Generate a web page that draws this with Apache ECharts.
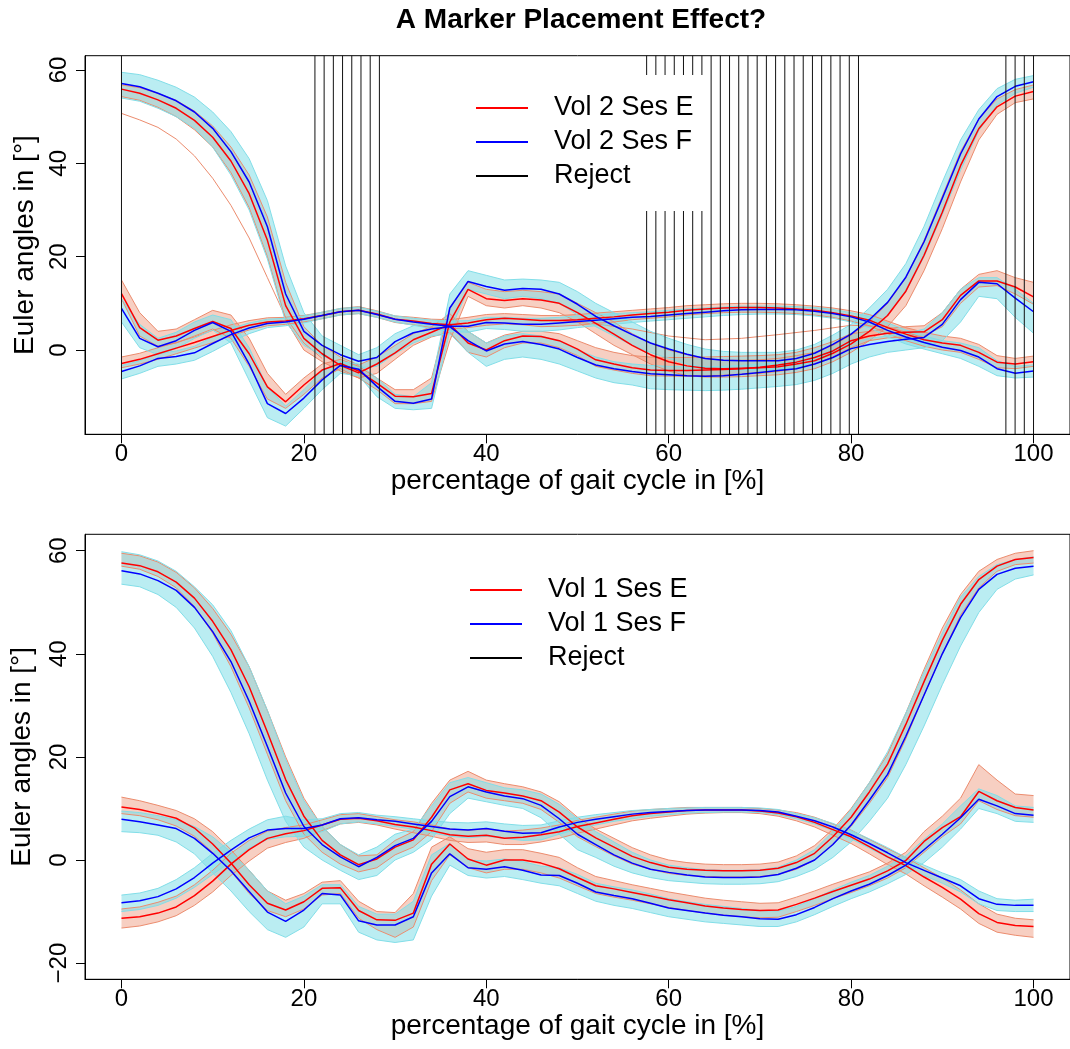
<!DOCTYPE html>
<html>
<head>
<meta charset="utf-8">
<title>A Marker Placement Effect?</title>
<script src="https://cdn.jsdelivr.net/npm/echarts@6/dist/echarts.min.js"></script>
<style>
  html, body { margin: 0; padding: 0; background: #fff; }
  #main { width: 1070px; height: 1049px; }
</style>
</head>
<body>
<div id="main"></div>
<script>
// percentage of gait cycle, sampling grid used for every curve
const xs = [0,2,4,6,8,10,12,14,16,18,20,22,24,26,28,30,32,34,36,38,40,42,44,46,48,50,
  52,54,56,58,60,62,64,66,68,70,72,74,76,78,80,82,84,86,88,90,92,94,96,98,100];

const xTicks = [0, 20, 40, 60, 80, 100];
const yTicksTop = [0, 20, 40, 60];
const yTicksBottom = [-20, 0, 20, 40, 60];

// rejected samples (vertical black lines, top panel)
const rejectX = [0, 21.21, 22.22, 23.23, 24.24, 25.25, 26.26, 27.27, 28.28,
  57.58, 58.59, 59.6, 60.61, 61.62, 62.63, 63.64, 64.65, 65.66, 66.67, 67.68, 68.69,
  69.7, 70.71, 71.72, 72.73, 73.74, 74.75, 75.76, 76.77, 77.78, 78.79, 79.8, 80.81,
  96.97, 97.98, 98.99, 100];

// ---- Vol 2 (top panel): means and trial envelopes ----
const vol2E1 = [55.9,55.0,53.6,51.8,49.2,45.6,40.5,33.5,23.5,9.5,2.5,-0.8,-3.3,-4.9,-3.0,-0.6,2.2,3.8,5.5,1.5,0.0,2.0,3.0,2.9,2.0,0.2,-2.1,-3.0,-3.8,-4.3,-4.4,-4.4,-4.3,-4.2,-4.0,-3.7,-3.2,-2.6,-1.6,-0.2,2.0,3.0,3.6,3.8,3.9,6.5,11.7,14.8,14.8,13.5,11.4];
const vol2E1Lo = [54.3,53.5,52.0,50.0,47.2,43.5,38.0,30.5,20.0,6.5,0.0,-2.5,-4.5,-6.0,-5.0,-2.0,1.0,2.8,3.8,-0.5,-1.5,0.5,1.5,1.5,0.5,-1.2,-3.5,-4.3,-5.0,-5.5,-5.6,-5.6,-5.5,-5.4,-5.2,-5.0,-4.6,-4.0,-3.0,-1.5,0.5,2.0,2.6,2.8,3.0,5.0,10.0,13.5,13.8,12.0,9.8];
const vol2E1Hi = [56.8,56.2,55.0,53.5,51.2,48.0,43.5,37.5,28.5,14.5,5.0,1.0,-1.5,-3.2,-1.5,1.0,3.5,5.0,7.8,4.0,1.5,3.2,4.0,4.0,3.5,2.0,0.5,-0.5,-1.2,-1.5,-1.6,-1.6,-1.5,-1.4,-1.3,-1.2,-1.0,-0.5,0.5,1.8,3.5,4.0,4.6,5.0,5.2,8.0,13.0,16.2,17.0,15.5,14.5];
const vol2F1 = [57.1,56.4,55.0,53.4,51.0,47.5,42.5,36.0,26.4,12.0,4.0,1.0,-1.0,-2.4,-1.6,1.8,3.7,4.5,5.0,2.0,-0.2,1.3,1.8,1.2,0.2,-1.6,-3.2,-4.0,-4.6,-5.1,-5.3,-5.5,-5.6,-5.5,-5.2,-4.8,-4.4,-4.0,-3.0,-1.6,0.3,1.2,1.8,2.3,2.7,5.5,10.8,14.5,14.2,11.1,8.2];
const vol2F1Lo = [54.0,53.3,51.8,50.0,47.5,43.5,37.5,30.0,19.5,6.0,1.0,-1.2,-3.0,-3.8,-3.5,-0.8,1.5,3.0,3.5,-0.5,-3.5,-2.0,-1.5,-2.0,-3.0,-4.5,-6.0,-7.0,-7.5,-8.3,-8.5,-8.6,-8.7,-8.6,-8.4,-8.1,-7.8,-7.4,-6.5,-5.0,-3.0,-1.5,-0.5,0.0,0.5,2.0,6.0,11.5,11.0,7.0,3.6];
const vol2F1Hi = [59.5,59.0,57.8,56.3,54.2,51.0,46.8,41.0,32.0,18.0,8.0,3.0,1.0,-1.0,0.5,3.5,5.2,5.8,6.5,4.0,1.5,3.0,3.5,3.0,2.0,0.0,-1.5,-2.5,-3.0,-3.3,-3.5,-3.6,-3.6,-3.5,-3.3,-3.0,-2.8,-2.5,-1.5,0.0,1.5,2.5,3.0,3.5,4.5,8.0,13.0,15.5,15.5,13.0,10.0];

const vol2E2 = [12.1,4.8,2.1,3.0,4.6,6.1,4.6,-0.8,-7.9,-11.1,-7.5,-4.3,-2.9,-4.5,-7.1,-9.9,-10.0,-9.3,6.0,13.0,11.0,10.6,11.0,10.7,10.0,8.0,5.7,3.4,1.0,-1.0,-2.5,-3.4,-3.9,-4.0,-3.9,-3.8,-3.6,-3.0,-2.3,-0.7,1.3,4.0,7.4,12.6,20.3,29.5,39.5,47.4,52.1,54.4,55.4];
const vol2E2Lo = [11.0,3.0,0.8,1.5,3.0,4.5,2.5,-3.5,-10.5,-12.5,-9.5,-6.0,-4.0,-6.0,-8.5,-11.5,-11.5,-11.0,2.0,11.5,9.5,9.0,9.5,9.0,8.0,6.0,3.5,1.0,-1.0,-3.0,-4.5,-5.5,-5.8,-5.8,-5.7,-5.5,-5.3,-4.8,-4.0,-2.5,-0.5,2.0,5.0,9.5,17.0,26.0,36.0,45.0,50.5,53.0,53.8];
const vol2E2Hi = [15.0,8.0,4.0,4.5,6.5,8.5,7.5,2.5,-5.0,-9.5,-6.0,-3.0,-2.0,-3.5,-6.0,-8.5,-8.5,-6.0,9.0,14.5,13.0,12.5,12.8,12.5,12.0,10.0,8.0,6.0,3.5,1.5,0.0,-1.0,-1.8,-2.2,-2.2,-2.1,-1.8,-1.2,-0.5,1.0,3.2,6.0,10.0,15.5,23.5,33.0,42.5,49.5,53.8,55.8,56.8];
const vol2F2 = [8.9,2.5,0.7,2.0,4.2,5.9,4.0,-3.0,-11.5,-13.6,-10.3,-6.4,-3.3,-4.1,-7.8,-11.0,-11.4,-10.5,9.0,14.7,13.6,12.8,13.2,13.0,12.0,9.8,7.2,5.2,3.3,1.5,0.2,-0.9,-1.8,-2.2,-2.3,-2.3,-2.3,-1.8,-0.7,1.2,3.4,6.5,10.2,15.6,23.2,32.5,42.0,49.5,54.3,56.5,57.5];
const vol2F2Lo = [6.0,0.5,-1.0,0.3,2.5,4.3,1.5,-6.5,-14.5,-16.3,-12.5,-8.5,-5.0,-5.5,-10.0,-12.5,-12.8,-12.5,4.0,13.0,12.0,11.0,11.5,11.0,10.0,7.5,5.0,3.0,1.0,-0.5,-1.8,-3.0,-3.8,-4.2,-4.3,-4.3,-4.2,-3.8,-2.5,-0.5,1.5,4.0,7.5,12.5,20.0,29.0,38.5,47.0,52.5,55.0,56.3];
const vol2F2Hi = [11.0,5.5,2.5,3.8,6.0,7.5,6.5,0.5,-8.0,-12.0,-8.5,-4.5,-2.5,-3.0,-6.0,-9.5,-10.0,-7.0,12.0,17.0,16.0,15.0,15.2,15.0,14.5,12.5,10.0,8.0,6.0,4.0,2.5,1.2,0.2,-0.3,-0.5,-0.5,-0.5,0.0,1.2,3.2,5.5,9.0,13.0,18.5,26.5,36.0,45.0,51.5,56.0,58.0,58.8];

const vol2E3 = [-2.9,-2.0,-0.8,0.4,1.6,2.9,4.2,5.3,6.0,6.2,6.7,7.4,8.2,8.5,7.7,6.6,6.2,5.7,5.4,5.8,6.5,6.8,6.6,6.3,6.3,6.5,6.8,7.1,7.5,7.8,8.1,8.5,8.8,9.0,9.1,9.1,9.0,8.8,8.5,8.0,7.3,6.4,4.8,3.4,2.2,1.5,1.0,-0.5,-2.6,-3.0,-2.5];
const vol2E3Lo = [-3.8,-3.0,-2.0,-0.8,0.4,1.6,3.0,4.3,5.2,5.5,6.0,6.7,7.5,7.8,7.0,5.9,5.4,4.8,4.5,4.8,5.3,5.6,5.4,5.0,5.1,5.3,5.7,6.0,6.5,6.8,7.1,7.5,7.8,8.0,8.1,8.1,8.0,7.8,7.5,7.0,6.2,5.2,3.5,2.0,0.8,0.0,-0.5,-2.0,-3.8,-4.0,-3.5];
const vol2E3Hi = [-1.5,-0.7,0.5,1.6,2.8,4.2,5.4,6.3,6.9,7.0,7.4,8.1,8.9,9.3,8.4,7.3,7.0,6.6,6.5,7.0,7.6,7.8,7.6,7.4,7.4,7.6,7.9,8.2,8.5,8.8,9.1,9.5,9.7,9.9,10.0,10.0,9.9,9.7,9.4,9.0,8.4,7.6,6.2,4.8,3.8,3.0,2.5,1.2,-1.2,-1.8,-1.3];
const vol2F3 = [-4.6,-3.4,-1.8,-1.4,-0.6,1.4,3.3,4.7,5.7,6.0,6.6,7.4,8.2,8.5,7.6,6.6,6.0,5.5,5.1,5.1,5.9,5.8,5.5,5.5,5.8,6.1,6.4,6.7,7.0,7.2,7.5,7.8,8.1,8.4,8.6,8.7,8.7,8.6,8.3,7.8,7.1,6.0,4.2,2.8,1.6,0.6,-0.1,-1.5,-4.0,-5.0,-4.5];
const vol2F3Lo = [-6.2,-5.0,-3.5,-3.0,-2.2,-0.3,1.8,3.5,4.8,5.2,5.8,6.7,7.5,7.8,7.0,6.0,5.3,4.6,4.0,3.8,4.6,4.4,4.0,4.0,4.3,4.8,5.2,5.5,5.9,6.2,6.5,6.8,7.1,7.4,7.6,7.7,7.7,7.6,7.3,6.8,6.0,4.8,2.8,1.3,0.2,-0.8,-1.8,-3.5,-5.5,-6.0,-5.8];
const vol2F3Hi = [-3.3,-2.3,-0.8,-0.2,0.8,2.8,4.6,5.8,6.6,6.8,7.3,8.1,8.9,9.2,8.3,7.3,6.8,6.4,6.2,6.3,7.0,7.0,6.8,6.8,7.0,7.3,7.5,7.8,8.0,8.2,8.5,8.8,9.0,9.2,9.4,9.4,9.4,9.3,9.1,8.7,8.0,7.2,5.8,4.3,3.0,2.0,1.5,0.5,-2.3,-3.5,-3.2];

// two single stray trials of session E
const vol2OddX1 = [0,2,4,6,8,10,12,14,16,18,20,22];
const vol2OddE1 = [50.7,49.3,47.7,45.2,41.6,36.8,31.0,24.0,15.5,7.0,1.5,-1.8];
const vol2OddX3 = [48,52,56,60,64,68,72,76,80,84,88];
const vol2OddE3 = [6.3,5.6,4.5,3.0,2.2,2.5,3.3,4.2,5.3,5.0,2.6];

// ---- Vol 1 (bottom panel) ----
const vol1E1 = [57.6,57.1,55.9,53.9,50.8,46.3,40.8,33.6,24.8,15.6,8.5,3.8,1.0,-0.9,0.2,2.5,3.9,8.3,13.6,14.8,13.5,13.0,12.4,11.5,9.3,6.4,4.3,2.5,0.7,-0.5,-1.4,-1.8,-2.0,-2.1,-2.1,-2.0,-1.6,-0.5,1.3,4.5,8.3,13.2,18.6,26.3,34.6,42.6,49.6,54.4,57.0,58.3,58.7];
const vol1E1Lo = [57.0,56.4,55.0,52.8,49.2,44.0,37.5,29.5,20.5,11.5,5.0,1.5,-0.8,-2.3,-1.5,1.0,2.5,5.5,11.0,13.2,12.0,11.5,11.0,9.8,7.3,4.5,2.6,0.8,-0.8,-1.8,-2.6,-3.0,-3.2,-3.3,-3.3,-3.2,-2.8,-1.8,0.0,3.0,6.5,11.0,16.0,23.5,32.0,40.0,47.5,52.8,56.0,57.3,57.6];
const vol1E1Hi = [59.5,59.0,57.8,55.8,52.8,48.8,43.8,37.5,29.0,20.0,12.0,6.5,3.0,0.8,1.0,3.8,5.5,11.0,15.5,17.2,15.5,14.8,14.2,13.2,11.3,8.3,6.0,4.2,2.4,1.0,0.0,-0.5,-0.8,-0.9,-0.9,-0.8,-0.4,0.8,2.8,6.0,10.0,15.0,20.5,28.5,37.0,45.0,51.5,56.0,58.3,59.5,60.0];
const vol1F1 = [56.1,55.5,54.2,52.3,49.0,44.3,38.5,30.8,22.0,13.0,6.5,3.0,0.6,-1.3,0.5,2.8,4.2,7.5,12.3,14.2,13.2,12.4,11.9,10.6,8.0,5.0,3.0,1.0,-0.6,-1.8,-2.4,-2.9,-3.3,-3.4,-3.4,-3.3,-2.8,-1.6,0.0,3.0,6.8,11.6,16.6,24.0,32.0,40.0,47.0,52.5,55.4,56.6,57.0];
const vol1F1Lo = [53.5,53.0,51.5,49.0,45.0,39.5,32.5,24.5,15.5,7.5,2.5,0.0,-2.0,-3.8,-3.0,0.0,1.5,4.0,9.0,12.0,11.3,10.6,10.0,8.2,5.0,2.0,0.5,-1.2,-2.5,-3.4,-4.0,-4.3,-4.6,-4.7,-4.7,-4.6,-4.2,-3.2,-1.8,0.5,3.5,7.5,12.0,18.5,26.0,34.0,41.5,48.0,52.5,54.5,55.3];
const vol1F1Hi = [59.8,59.2,58.0,56.0,53.0,49.5,44.5,37.5,29.0,19.5,11.5,6.5,3.0,1.0,2.5,5.0,6.0,10.5,15.0,16.0,15.0,14.0,13.6,12.8,10.8,8.0,5.5,3.5,1.5,0.0,-1.0,-1.5,-1.9,-2.0,-2.0,-1.9,-1.4,0.0,2.0,5.5,9.8,15.0,21.0,28.5,36.5,44.0,51.0,55.0,57.3,58.3,58.8];

const vol1E2 = [10.3,9.8,9.0,8.1,6.2,3.1,-0.6,-4.8,-8.4,-9.7,-8.1,-5.5,-5.4,-9.8,-11.6,-11.7,-10.3,-0.8,3.1,0.2,-1.0,0.0,0.0,-0.6,-1.7,-3.4,-5.0,-5.6,-6.3,-7.0,-7.7,-8.3,-8.9,-9.3,-9.6,-9.8,-9.7,-8.6,-7.4,-6.1,-4.9,-3.7,-2.1,-0.1,3.6,6.3,8.4,13.3,11.5,10.2,9.7];
const vol1E2Lo = [9.0,8.6,7.8,6.6,4.6,1.5,-2.2,-6.5,-9.8,-11.0,-9.5,-6.8,-6.5,-11.3,-13.5,-15.0,-13.0,-4.0,1.0,-1.5,-2.5,-1.8,-1.8,-2.5,-3.5,-5.0,-6.5,-7.2,-7.8,-8.5,-9.2,-9.8,-10.3,-10.7,-11.0,-11.2,-11.1,-10.0,-8.8,-7.5,-6.3,-5.0,-3.5,-1.5,1.5,4.5,7.0,11.5,9.8,8.6,8.3];
const vol1E2Hi = [12.2,11.5,10.6,9.6,8.0,5.5,2.0,-2.0,-6.0,-7.8,-6.5,-4.3,-4.0,-8.0,-10.0,-10.2,-6.5,2.5,4.5,2.2,1.5,2.0,2.0,1.3,0.5,-1.5,-3.2,-4.0,-4.8,-5.5,-6.2,-6.8,-7.4,-7.8,-8.1,-8.4,-8.3,-7.2,-6.0,-4.7,-3.5,-2.3,-0.6,1.5,5.5,8.5,12.0,18.5,15.5,12.8,12.5];
const vol1F2 = [7.9,7.4,6.8,6.1,4.2,1.3,-2.1,-6.1,-10.1,-11.9,-9.7,-6.5,-6.8,-11.8,-12.6,-12.6,-11.0,-2.5,1.2,-1.5,-1.8,-1.3,-2.0,-2.9,-3.0,-4.5,-6.2,-6.9,-7.5,-8.4,-9.3,-9.8,-10.3,-10.7,-11.0,-11.4,-11.5,-10.6,-9.2,-7.5,-6.0,-4.7,-3.0,-1.0,2.0,5.0,8.2,11.8,10.5,9.0,8.7];
const vol1F2Lo = [5.5,5.3,4.8,3.5,1.2,-2.5,-6.0,-10.0,-13.5,-15.0,-13.0,-8.5,-8.5,-14.0,-15.5,-16.0,-15.5,-7.0,-1.0,-3.0,-3.5,-3.2,-3.8,-4.5,-5.0,-6.5,-8.0,-8.8,-9.4,-10.2,-11.0,-11.5,-12.0,-12.3,-12.6,-12.9,-12.9,-12.0,-10.6,-9.0,-7.5,-6.2,-4.6,-2.8,-0.5,2.5,6.0,10.0,9.0,7.5,7.3];
const vol1F2Hi = [9.5,9.2,8.6,7.8,6.5,4.5,1.5,-2.0,-6.0,-8.5,-7.0,-4.8,-4.8,-9.0,-10.5,-10.5,-8.0,1.0,3.2,0.0,-0.2,0.2,-0.3,-1.2,-1.5,-2.8,-4.5,-5.2,-5.8,-6.6,-7.5,-8.1,-8.6,-9.0,-9.4,-9.8,-9.9,-9.0,-7.5,-5.8,-4.3,-3.0,-1.2,0.8,4.0,7.0,10.5,13.8,12.5,10.5,10.2];

const vol1E3 = [-11.3,-11.0,-10.3,-9.1,-6.9,-4.1,-0.8,2.0,4.2,5.1,5.7,6.8,7.9,8.1,7.6,6.9,6.4,5.7,4.9,4.6,4.8,4.2,4.4,4.9,5.5,6.5,7.2,7.9,8.6,9.0,9.3,9.6,9.7,9.7,9.7,9.5,9.1,8.4,7.3,5.9,4.5,2.6,0.6,-1.1,-3.3,-5.3,-7.6,-10.4,-12.1,-12.7,-12.9];
const vol1E3Lo = [-13.2,-12.8,-12.0,-10.8,-8.8,-6.2,-3.0,-0.2,2.3,3.4,4.2,5.7,7.0,7.3,6.8,6.0,5.3,4.6,3.8,3.4,3.5,3.0,3.0,3.5,4.2,5.2,6.0,6.8,7.6,8.1,8.5,8.9,9.1,9.2,9.2,9.0,8.5,7.6,6.4,4.8,3.2,1.2,-0.9,-2.7,-5.0,-7.2,-9.5,-12.3,-14.0,-14.6,-15.0];
const vol1E3Hi = [-9.5,-9.1,-8.2,-7.0,-4.8,-2.0,1.3,3.8,5.6,6.3,6.8,7.8,8.8,9.0,8.4,7.8,7.4,6.8,6.0,5.8,6.0,5.6,5.8,6.2,6.8,7.7,8.3,8.9,9.5,9.8,10.0,10.2,10.2,10.2,10.2,10.0,9.7,9.2,8.3,7.0,5.8,4.0,2.2,0.5,-1.5,-3.5,-5.8,-8.5,-10.5,-11.3,-11.6];
const vol1F3 = [-8.3,-7.9,-7.1,-5.6,-3.4,-0.6,1.9,4.3,5.8,6.1,6.1,6.8,8.0,8.2,7.8,7.5,7.0,6.5,6.0,5.8,6.1,5.6,5.2,5.3,6.4,7.3,7.9,8.4,8.9,9.2,9.4,9.6,9.7,9.7,9.7,9.6,9.3,8.5,7.6,6.4,4.9,3.2,1.4,-0.5,-2.0,-3.5,-5.0,-7.5,-8.6,-8.8,-8.8];
const vol1F3Lo = [-10.0,-9.6,-8.8,-7.4,-5.3,-2.8,-0.3,2.3,4.0,4.5,4.6,5.5,7.0,7.4,7.0,6.5,6.0,5.3,4.6,4.3,4.6,4.2,3.8,3.9,5.0,6.0,6.8,7.5,8.0,8.5,8.8,9.1,9.2,9.3,9.3,9.2,8.8,8.0,7.0,5.7,4.1,2.3,0.5,-1.4,-3.0,-4.5,-6.2,-8.5,-9.8,-10.0,-10.0];
const vol1F3Hi = [-6.8,-6.4,-5.5,-3.8,-1.5,1.3,3.8,6.0,7.8,8.5,7.8,8.0,9.0,9.2,8.7,8.4,8.0,7.6,7.3,7.2,7.4,7.0,6.7,6.8,7.6,8.3,8.8,9.2,9.6,9.8,10.0,10.1,10.2,10.2,10.2,10.1,9.8,9.0,8.2,7.1,5.7,4.1,2.4,0.5,-1.0,-2.5,-3.8,-6.0,-7.5,-7.8,-7.6];

const FONT = '"Liberation Sans", Arial, Helvetica, sans-serif';
const RED = '#ff0000', BLUE = '#0000ff';
const CYAN = '#82dee8', SALMON = '#ec8c6e';
const CYAN_FILL = 'rgba(130, 222, 232, 0.55)';
const SALMON_FILL = 'rgba(236, 140, 110, 0.42)';

const chart = echarts.init(document.getElementById('main'));

function toPairs(xv, vals) {
  return xv.map((x, i) => [x, vals[i]]);
}

// shaded envelope of the single trials, one polygon per bundle
function bandSeries(gi, lo, hi, fill) {
  return {
    type: 'custom', xAxisIndex: gi, yAxisIndex: gi, silent: true, z: 1, clip: true,
    data: toPairs(xs, lo),
    encode: { x: 0, y: 1 },
    renderItem(params, api) {
      if (params.dataIndex !== 0) return null;
      const pts = [];
      xs.forEach((x, i) => pts.push(api.coord([x, hi[i]])));
      for (let i = xs.length - 1; i >= 0; i--) pts.push(api.coord([xs[i], lo[i]]));
      return { type: 'polygon', shape: { points: pts }, style: { fill: fill } };
    }
  };
}

function lineSeries(gi, xv, vals, color, width, name, z) {
  return {
    type: 'line', name: name, xAxisIndex: gi, yAxisIndex: gi,
    data: toPairs(xv, vals), symbol: 'none', silent: true, z: z || 2,
    color: color, lineStyle: { color: color, width: width },
    emphasis: { disabled: true }
  };
}

const panels = [
  {
    gi: 0, nameE: 'Vol 2 Ses E', nameF: 'Vol 2 Ses F',
    E: [[vol2E1, vol2E1Lo, vol2E1Hi], [vol2E2, vol2E2Lo, vol2E2Hi], [vol2E3, vol2E3Lo, vol2E3Hi]],
    F: [[vol2F1, vol2F1Lo, vol2F1Hi], [vol2F2, vol2F2Lo, vol2F2Hi], [vol2F3, vol2F3Lo, vol2F3Hi]],
    odd: [[vol2OddX1, vol2OddE1], [vol2OddX3, vol2OddE3]]
  },
  {
    gi: 1, nameE: 'Vol 1 Ses E', nameF: 'Vol 1 Ses F',
    E: [[vol1E1, vol1E1Lo, vol1E1Hi], [vol1E2, vol1E2Lo, vol1E2Hi], [vol1E3, vol1E3Lo, vol1E3Hi]],
    F: [[vol1F1, vol1F1Lo, vol1F1Hi], [vol1F2, vol1F2Lo, vol1F2Hi], [vol1F3, vol1F3Lo, vol1F3Hi]],
    odd: []
  }
];

const series = [];
panels.forEach(p => {
  p.E.forEach(c => series.push(bandSeries(p.gi, c[1], c[2], SALMON_FILL)));
  p.F.forEach(c => series.push(bandSeries(p.gi, c[1], c[2], CYAN_FILL)));
  p.E.forEach(c => {
    series.push(lineSeries(p.gi, xs, c[1], SALMON, 1));
    series.push(lineSeries(p.gi, xs, c[2], SALMON, 1));
  });
  p.odd.forEach(o => series.push(lineSeries(p.gi, o[0], o[1], SALMON, 1)));
  p.F.forEach(c => {
    series.push(lineSeries(p.gi, xs, c[1], CYAN, 1));
    series.push(lineSeries(p.gi, xs, c[2], CYAN, 1));
  });
  p.E.forEach(c => series.push(lineSeries(p.gi, xs, c[0], RED, 1.5, p.nameE, 3)));
  p.F.forEach(c => series.push(lineSeries(p.gi, xs, c[0], BLUE, 1.5, p.nameF, 3)));
});

series.push({
  type: 'custom', name: 'Reject', xAxisIndex: 0, yAxisIndex: 0, z: 4, silent: true,
  color: '#000',
  data: rejectX.map(x => [x, 0]),
  encode: { x: 0, y: 1 },
  renderItem(params, api) {
    const cs = params.coordSys;
    const px = api.coord([api.value(0), 0])[0];
    return {
      type: 'line',
      shape: { x1: px, y1: cs.y, x2: px, y2: cs.y + cs.height },
      style: { stroke: '#111', lineWidth: 1 }
    };
  }
});

function xAxisCfg(gi) {
  return {
    type: 'value', gridIndex: gi, min: -4, max: 104,
    name: 'percentage of gait cycle in [%]', nameLocation: 'middle', nameGap: 33,
    nameTextStyle: { fontSize: 28, color: '#000', fontFamily: FONT },
    axisLine: { show: true, onZero: false, lineStyle: { color: '#000', width: 1 } },
    axisTick: { show: true, customValues: xTicks, length: 9, lineStyle: { color: '#000' } },
    axisLabel: { customValues: xTicks, fontSize: 24, color: '#000', margin: 8, fontFamily: FONT },
    splitLine: { show: false }
  };
}

function yAxisCfg(gi, min, max, ticks, gap) {
  return {
    type: 'value', gridIndex: gi, min: min, max: max,
    name: 'Euler angles in [°]', nameLocation: 'middle', nameRotate: 90, nameGap: gap,
    nameTextStyle: { fontSize: 28, color: '#000', fontFamily: FONT },
    axisLine: { show: true, onZero: false, lineStyle: { color: '#000', width: 1 } },
    axisTick: { show: true, customValues: ticks, length: 9, lineStyle: { color: '#000' } },
    axisLabel: {
      customValues: ticks, rotate: 90, fontSize: 24, color: '#000', margin: 13.5, fontFamily: FONT,
      formatter: v => String(v).replace('-', '\u2212')
    },
    splitLine: { show: false }
  };
}

function legendCfg(left, top, names) {
  return {
    left: left, top: top, orient: 'vertical', icon: 'rect',
    itemWidth: 52, itemHeight: 2, itemGap: 0, padding: [16, 16, 18, 18],
    backgroundColor: '#fff', selectedMode: false, z: 10,
    itemStyle: { borderWidth: 0 },
    textStyle: { fontSize: 27, color: '#000', lineHeight: 34, padding: [0, 0, 0, 21], fontFamily: FONT },
    data: [
      { name: names[0], itemStyle: { color: RED } },
      { name: names[1], itemStyle: { color: BLUE } },
      { name: 'Reject', itemStyle: { color: '#000' } }
    ]
  };
}

const option = {
  animation: false,
  backgroundColor: '#fff',
  textStyle: { fontFamily: FONT },
  graphic: [{
    type: 'text', x: 581, y: 20, z: 10,
    style: {
      text: 'A Marker Placement Effect?', font: 'bold 28px ' + FONT, fill: '#000',
      align: 'center', verticalAlign: 'middle'
    }
  }],
  grid: [
    { left: 85, top: 55.7, width: 991, height: 378.6, show: true, borderColor: '#000', borderWidth: 1 },
    { left: 80, top: 534.3, width: 991, height: 445, show: true, borderColor: '#000', borderWidth: 1 }
  ],
  xAxis: [xAxisCfg(0), xAxisCfg(1)],
  yAxis: [
    yAxisCfg(0, -18.06, 63.06, yTicksTop, 45),
    yAxisCfg(1, -23.14, 63.18, yTicksBottom, 49)
  ],
  legend: [
    legendCfg(458, 75, ['Vol 2 Ses E', 'Vol 2 Ses F']),
    legendCfg(452, 557, ['Vol 1 Ses E', 'Vol 1 Ses F'])
  ],
  series: series
};

chart.setOption(option);
</script>
</body>
</html>
